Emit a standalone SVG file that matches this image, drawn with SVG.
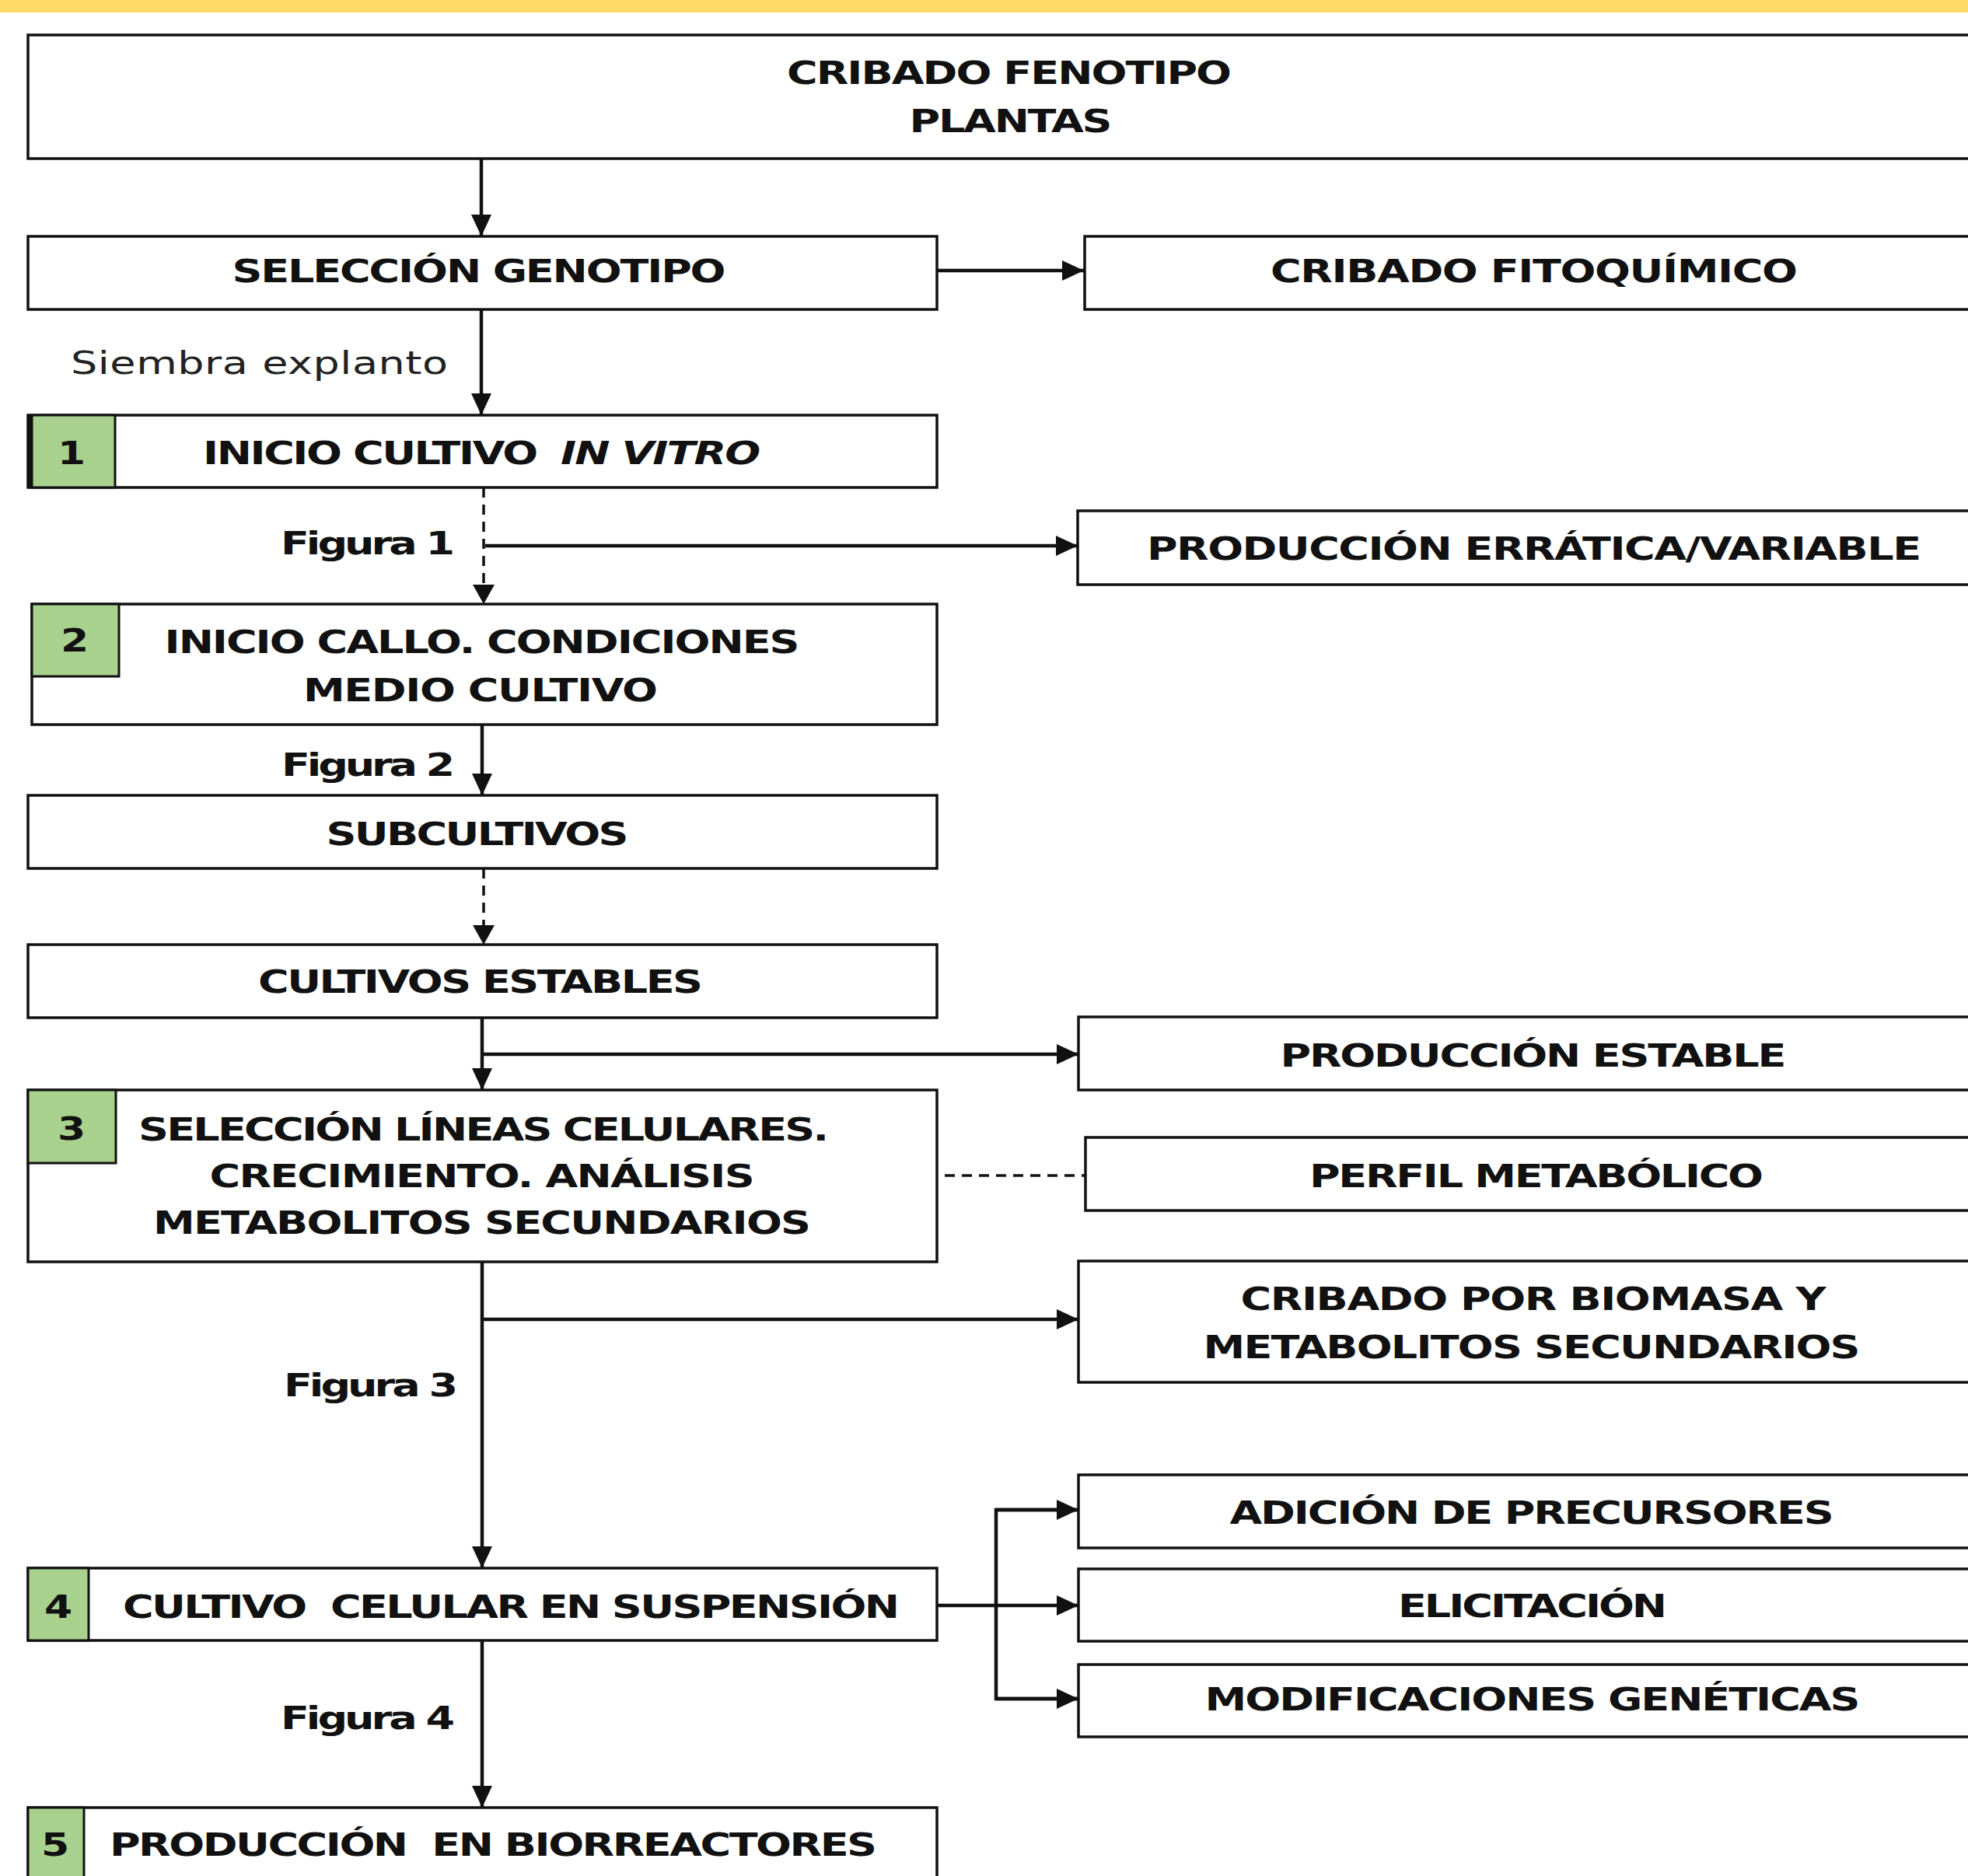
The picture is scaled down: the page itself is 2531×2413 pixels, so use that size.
<svg xmlns="http://www.w3.org/2000/svg" width="2531" height="2413" viewBox="0 0 2531 2413">
<defs>
<style>
.box{fill:#fff;stroke:#111;stroke-width:3.5}
.num{fill:#a9d18e;stroke:#111;stroke-width:3}
.t{font-family:"DejaVu Sans","Liberation Sans",sans-serif;font-weight:bold;font-size:40px;fill:#111}
.r{font-family:"DejaVu Sans","Liberation Sans",sans-serif;font-weight:normal;font-size:40px;fill:#222}
.c{text-anchor:middle}
.ln{fill:none;stroke:#111;stroke-width:4.5}
.dl{fill:none;stroke:#111;stroke-width:3.5;stroke-dasharray:13 9}
</style>
<marker id="ah" markerUnits="userSpaceOnUse" markerWidth="30" markerHeight="26" refX="28" refY="13" orient="auto">
<path d="M0,0 L28,13 L0,26 z" fill="#111"/>
</marker>
</defs>
<rect x="0" y="0" width="2531" height="2413" fill="#fff"/>
<rect x="0" y="0" width="2531" height="16" fill="#ffd966"/>

<g id="connectors">
<line class="ln" x1="619" y1="204" x2="619" y2="304" marker-end="url(#ah)"/>
<line class="ln" x1="1205" y1="348" x2="1394" y2="348" marker-end="url(#ah)"/>
<line class="ln" x1="619" y1="398" x2="619" y2="534" marker-end="url(#ah)"/>
<line class="dl" x1="622" y1="627" x2="622" y2="760"/>
<path d="M608,752 L622,777 L636,752 z" fill="#111"/>
<line class="ln" x1="624" y1="702" x2="1386" y2="702" marker-end="url(#ah)"/>
<line class="ln" x1="620" y1="932" x2="620" y2="1023" marker-end="url(#ah)"/>
<line class="dl" x1="622" y1="1117" x2="622" y2="1198"/>
<path d="M608,1190 L622,1215 L636,1190 z" fill="#111"/>
<line class="ln" x1="620" y1="1309" x2="620" y2="1402" marker-end="url(#ah)"/>
<line class="ln" x1="620" y1="1356" x2="1387" y2="1356" marker-end="url(#ah)"/>
<line class="dl" x1="1215" y1="1512" x2="1396" y2="1512"/>
<line class="ln" x1="620" y1="1623" x2="620" y2="2017" marker-end="url(#ah)"/>
<line class="ln" x1="620" y1="1697" x2="1387" y2="1697" marker-end="url(#ah)"/>
<line class="ln" x1="1205" y1="2065" x2="1387" y2="2065" marker-end="url(#ah)"/>
<polyline class="ln" points="1387,1942 1281,1942 1281,2185 1387,2185"/>
<line class="ln" x1="1281" y1="1942" x2="1387" y2="1942" marker-end="url(#ah)"/>
<line class="ln" x1="1281" y1="2185" x2="1387" y2="2185" marker-end="url(#ah)"/>
<line class="ln" x1="620" y1="2110" x2="620" y2="2325" marker-end="url(#ah)"/>
</g>

<g id="labels">
<text class="r" transform="translate(91 481) scale(1.35 1)" textLength="359.3" lengthAdjust="spacing">Siembra explanto</text>
<text class="t" transform="translate(361 713) scale(1.35 1)" textLength="165.9" lengthAdjust="spacing">Figura 1</text>
<text class="t" transform="translate(362 998) scale(1.35 1)" textLength="165.2" lengthAdjust="spacing">Figura 2</text>
<text class="t" transform="translate(365 1796) scale(1.35 1)" textLength="165.9" lengthAdjust="spacing">Figura 3</text>
<text class="t" transform="translate(361 2224) scale(1.35 1)" textLength="165.9" lengthAdjust="spacing">Figura 4</text>
</g>

<g id="n-cribado-fenotipo">
<rect class="box" x="36" y="45" width="2520" height="159"/>
<text class="t c" transform="translate(1298 108) scale(1.35 1)" textLength="423.7" lengthAdjust="spacing">CRIBADO FENOTIPO</text>
<text class="t c" transform="translate(1300 170) scale(1.35 1)" textLength="193.3" lengthAdjust="spacing">PLANTAS</text>
</g>

<g id="n-seleccion-genotipo">
<rect class="box" x="36" y="304" width="1169" height="94"/>
<text class="t c" transform="translate(616 363) scale(1.35 1)" textLength="470.4" lengthAdjust="spacing">SELECCIÓN GENOTIPO</text>
</g>

<g id="n-cribado-fitoquimico">
<rect class="box" x="1395" y="304" width="1200" height="94"/>
<text class="t c" transform="translate(1973 363) scale(1.35 1)" textLength="502.2" lengthAdjust="spacing">CRIBADO FITOQUÍMICO</text>
</g>

<g id="n-1">
<rect class="box" x="36" y="534" width="1169" height="93"/>
<rect class="num" x="40" y="534" width="108" height="93"/>
<line x1="39" y1="534" x2="39" y2="627" stroke="#111" stroke-width="7"/>
<text class="t c" transform="translate(92 597) scale(1.3 1)">1</text>
<text class="t" transform="translate(261 597) scale(1.35 1)" textLength="319.3" lengthAdjust="spacing">INICIO CULTIVO</text>
<text class="t" transform="translate(721 597) scale(1.35 1)" font-style="italic" textLength="190.4" lengthAdjust="spacing">IN VITRO</text>
</g>

<g id="n-erratica">
<rect class="box" x="1386" y="657" width="1200" height="95"/>
<text class="t c" transform="translate(1973 720) scale(1.35 1)" textLength="737.8" lengthAdjust="spacing">PRODUCCIÓN ERRÁTICA/VARIABLE</text>
</g>

<g id="n-2">
<rect class="box" x="41" y="777" width="1164" height="155"/>
<rect class="num" x="41" y="777" width="112" height="93"/>
<text class="t c" transform="translate(96 838) scale(1.3 1)">2</text>
<text class="t c" transform="translate(620 840) scale(1.35 1)" textLength="605.2" lengthAdjust="spacing">INICIO CALLO. CONDICIONES</text>
<text class="t c" transform="translate(618 902) scale(1.35 1)" textLength="337.8" lengthAdjust="spacing">MEDIO CULTIVO</text>
</g>

<g id="n-subcultivos">
<rect class="box" x="36" y="1023" width="1169" height="94"/>
<text class="t c" transform="translate(614 1087) scale(1.35 1)" textLength="288.1" lengthAdjust="spacing">SUBCULTIVOS</text>
</g>

<g id="n-cultivos-estables">
<rect class="box" x="36" y="1215" width="1169" height="94"/>
<text class="t c" transform="translate(618 1277) scale(1.35 1)" textLength="423.7" lengthAdjust="spacing">CULTIVOS ESTABLES</text>
</g>

<g id="n-produccion-estable">
<rect class="box" x="1387" y="1308" width="1200" height="94"/>
<text class="t c" transform="translate(1972 1372) scale(1.35 1)" textLength="482.2" lengthAdjust="spacing">PRODUCCIÓN ESTABLE</text>
</g>

<g id="n-3">
<rect class="box" x="36" y="1402" width="1169" height="221"/>
<rect class="num" x="36" y="1402" width="113" height="94"/>
<text class="t c" transform="translate(92 1466) scale(1.3 1)">3</text>
<text class="t c" transform="translate(622 1467) scale(1.35 1)" textLength="657.8" lengthAdjust="spacing">SELECCIÓN LÍNEAS CELULARES.</text>
<text class="t c" transform="translate(620 1527) scale(1.35 1)" textLength="519.3" lengthAdjust="spacing">CRECIMIENTO. ANÁLISIS</text>
<text class="t c" transform="translate(620 1587) scale(1.35 1)" textLength="626.7" lengthAdjust="spacing">METABOLITOS SECUNDARIOS</text>
</g>

<g id="n-perfil">
<rect class="box" x="1396" y="1463" width="1200" height="94"/>
<text class="t c" transform="translate(1976 1527) scale(1.35 1)" textLength="432.6" lengthAdjust="spacing">PERFIL METABÓLICO</text>
</g>

<g id="n-cribado-biomasa">
<rect class="box" x="1387" y="1622" width="1200" height="156"/>
<text class="t c" transform="translate(1972 1685) scale(1.35 1)" textLength="557.8" lengthAdjust="spacing">CRIBADO POR BIOMASA Y</text>
<text class="t c" transform="translate(1970 1747) scale(1.35 1)" textLength="625.9" lengthAdjust="spacing">METABOLITOS SECUNDARIOS</text>
</g>

<g id="n-adicion">
<rect class="box" x="1387" y="1897" width="1200" height="94"/>
<text class="t c" transform="translate(1970 1960) scale(1.35 1)" textLength="575.6" lengthAdjust="spacing">ADICIÓN DE PRECURSORES</text>
</g>

<g id="n-4">
<rect class="box" x="36" y="2017" width="1169" height="93"/>
<rect class="num" x="36" y="2017" width="78" height="93"/>
<text class="t c" transform="translate(75 2081) scale(1.3 1)">4</text>
<text class="t" transform="translate(158 2081) scale(1.35 1)" style="white-space:pre" textLength="740" lengthAdjust="spacing">CULTIVO  CELULAR EN SUSPENSIÓN</text>
</g>

<g id="n-elicitacion">
<rect class="box" x="1387" y="2018" width="1200" height="93"/>
<text class="t c" transform="translate(1971 2080) scale(1.35 1)" textLength="256.3" lengthAdjust="spacing">ELICITACIÓN</text>
</g>

<g id="n-modificaciones">
<rect class="box" x="1387" y="2141" width="1200" height="93"/>
<text class="t c" transform="translate(1971 2200) scale(1.35 1)" textLength="624.4" lengthAdjust="spacing">MODIFICACIONES GENÉTICAS</text>
</g>

<g id="n-5">
<rect class="box" x="36" y="2325" width="1169" height="120"/>
<rect class="num" x="36" y="2325" width="72" height="120"/>
<text class="t c" transform="translate(71 2387) scale(1.3 1)">5</text>
<text class="t" transform="translate(141 2387) scale(1.35 1)" style="white-space:pre" textLength="731.1" lengthAdjust="spacing">PRODUCCIÓN  EN BIORREACTORES</text>
</g>
</svg>
